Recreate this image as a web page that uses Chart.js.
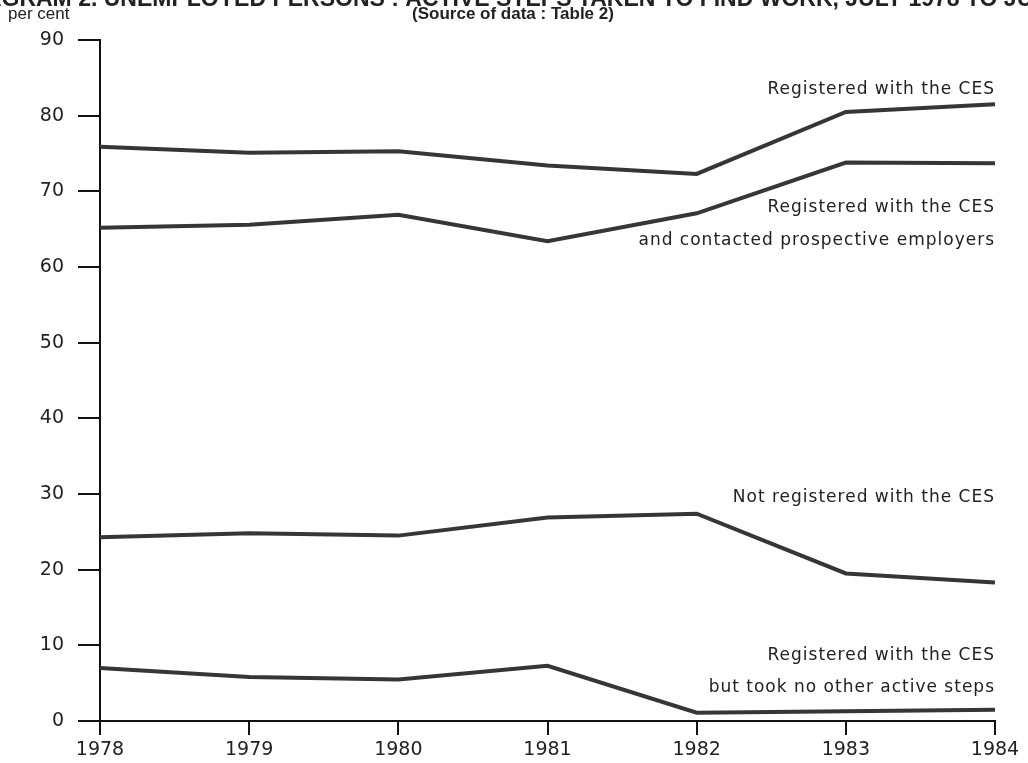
<!DOCTYPE html>
<html>

<head>
    <meta charset="utf-8">
    <title>Unemployed persons: active steps taken to find work</title>
    <style>
        body { margin: 0; background: #fff; }
    </style>
</head>

<body>
    <div>
        <canvas id="myChart" width="1028" height="763"></canvas>
    </div>

    <script src="https://cdn.jsdelivr.net/npm/chart.js"></script>

    <script>
        // values (per cent)
        const years = ['1978', '1979', '1980', '1981', '1982', '1983', '1984'];
        const registered = [75.9, 75.1, 75.3, 73.4, 72.3, 80.5, 81.5];
        const registeredContacted = [65.2, 65.6, 66.9, 63.4, 67.1, 73.8, 73.7];
        const notRegistered = [24.3, 24.8, 24.5, 26.9, 27.4, 19.5, 18.3];
        const registeredNoOther = [7.0, 5.8, 5.5, 7.3, 1.1, 1.3, 1.5];
        const yTicks = [0, 10, 20, 30, 40, 50, 60, 70, 80, 90];

        // text placed next to the lines, at the right edge (y in per cent)
        const lineLabels = [
            { text: 'Registered with the CES', y: 83.5 },
            { text: 'Registered with the CES', y: 67.9 },
            { text: 'and contacted prospective employers', y: 63.5 },
            { text: 'Not registered with the CES', y: 29.5 },
            { text: 'Registered with the CES', y: 8.7 },
            { text: 'but took no other active steps', y: 4.4 }
        ];

        const LINE_COLOR = '#363636';
        const FONT = '"DejaVu Sans", sans-serif';

        const makeSet = function (label, data) {
            return {
                label: label,
                data: data,
                borderColor: LINE_COLOR,
                borderWidth: 4,
                pointRadius: 0,
                tension: 0,
                fill: false
            };
        };

        const textPlugin = {
            id: 'textPlugin',
            afterDraw(chart) {
                const ctx = chart.ctx;
                const x = chart.scales.x;
                const y = chart.scales.y;
                ctx.save();
                ctx.fillStyle = '#222';
                ctx.textBaseline = 'middle';

                // title, cut off at the top of the page as in the scan
                ctx.font = 'bold 23px "Liberation Sans", sans-serif';
                ctx.textAlign = 'center';
                ctx.fillText('DIAGRAM 2. UNEMPLOYED PERSONS : ACTIVE STEPS TAKEN TO FIND WORK, JULY 1978 TO JULY 1984', 540, 0);

                ctx.font = 'bold 17px "Liberation Sans", sans-serif';
                ctx.fillText('(Source of data : Table 2)', 513, 14);

                ctx.font = '17px "Liberation Sans", sans-serif';
                ctx.textAlign = 'left';
                ctx.fillText('per cent', 8, 14);

                ctx.font = '17px ' + FONT;
                ctx.letterSpacing = '1px';
                ctx.textAlign = 'right';
                lineLabels.forEach(function (l) {
                    ctx.fillText(l.text, x.right, y.getPixelForValue(l.y));
                });
                ctx.restore();
            }
        };

        const data = {
            labels: years,
            datasets: [
                makeSet('Registered with the CES', registered),
                makeSet('Registered with the CES and contacted prospective employers', registeredContacted),
                makeSet('Not registered with the CES', notRegistered),
                makeSet('Registered with the CES but took no other active steps', registeredNoOther)
            ]
        };

        const config = {
            type: 'line',
            data: data,
            options: {
                responsive: false,
                animation: false,
                layout: {
                    padding: { top: 40, right: 33, left: 0, bottom: 0 }
                },
                plugins: {
                    legend: { display: false },
                    title: { display: false },
                    tooltip: { enabled: false }
                },
                scales: {
                    x: {
                        offset: false,
                        border: { display: true, color: '#111', width: 2 },
                        grid: {
                            drawOnChartArea: false,
                            drawTicks: true,
                            tickLength: 14,
                            color: '#111',
                            lineWidth: 2
                        },
                        ticks: {
                            color: '#222',
                            padding: 4,
                            maxRotation: 0,
                            font: { family: FONT, size: 19 }
                        },
                        afterFit(scale) { scale.height = 42; }
                    },
                    y: {
                        min: 0,
                        max: 90,
                        afterBuildTicks(scale) {
                            scale.ticks = yTicks.map(v => ({ value: v }));
                        },
                        border: { display: true, color: '#111', width: 2 },
                        grid: {
                            drawOnChartArea: false,
                            drawTicks: true,
                            tickLength: 22,
                            color: '#111',
                            lineWidth: 2
                        },
                        ticks: {
                            color: '#222',
                            padding: 14,
                            font: { family: FONT, size: 19 }
                        },
                        afterFit(scale) { scale.width = 100; }
                    }
                }
            },
            plugins: [textPlugin]
        };

        const ctx = document.getElementById('myChart');
        new Chart(ctx, config);
    </script>

</body>

</html>
